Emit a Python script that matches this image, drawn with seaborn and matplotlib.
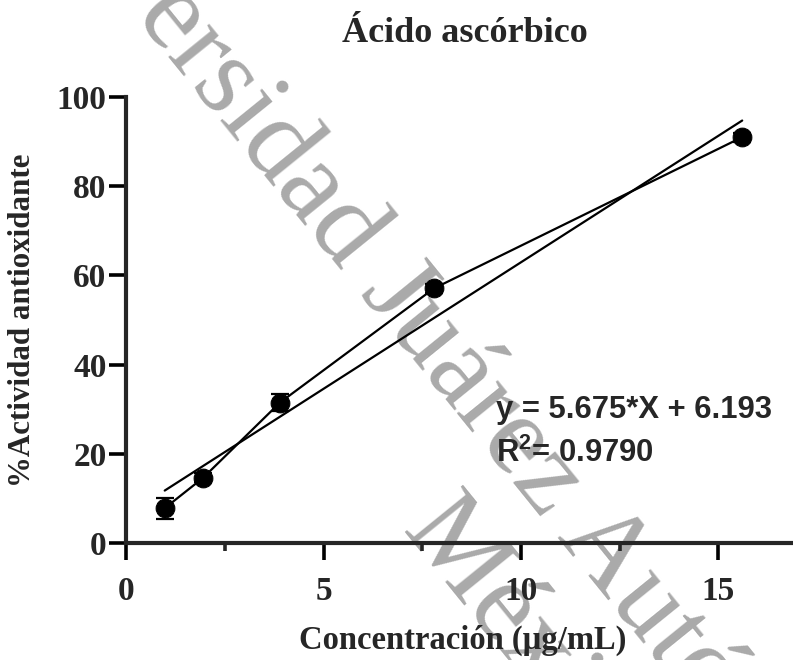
import matplotlib
matplotlib.use("Agg")
import matplotlib.pyplot as plt
import numpy as np
import pandas as pd
import seaborn as sns

# ---- data ----
concentration = [0.98, 1.95, 3.9, 7.8, 15.6]        # µg/mL
activity = [7.8, 14.6, 31.5, 57.1, 91.0]             # % antioxidant activity
error = [2.4, 1.0, 2.0, 1.0, 1.0]                    # SD
slope = 5.675
intercept = 6.193
r_squared = 0.9790
x_major_ticks = [0, 5, 10, 15]
x_minor_ticks = [2.5, 7.5, 12.5]
y_ticks = [0, 20, 40, 60, 80, 100]
title = "Ácido ascórbico"
x_label = "Concentración (µg/mL)"
y_label = "%Actividad antioxidante"
watermark_1 = "Universidad Juárez Autónoma de Tabasco"
watermark_2 = "México"

sns.set_style("ticks")
plt.rcParams["font.family"] = ["Liberation Serif", "DejaVu Serif"]
plt.rcParams["mathtext.fontset"] = "custom"
plt.rcParams["mathtext.bf"] = "Liberation Sans:bold"
plt.rcParams["mathtext.rm"] = "Liberation Sans:bold"

W, H = 793, 660
fig = plt.figure(figsize=(W / 100, H / 100), dpi=100)
ax = fig.add_axes([126 / W, 1 - 543 / H, (W - 126) / W, 446 / H])
ax.patch.set_alpha(0)

# watermark (behind everything)
wm_kw = dict(rotation=-51, rotation_mode="anchor", ha="left", va="baseline",
             fontsize=82, color="#aaaaaa", family="Liberation Serif", zorder=-1)
fig.text(-0.012, 1.245, watermark_1, **wm_kw)
fig.text(0.505, 0.195, watermark_2, **wm_kw)

df = pd.DataFrame({"conc": concentration, "act": activity})
fit = pd.DataFrame({"conc": [min(concentration), max(concentration)]})
fit["act"] = slope * fit["conc"] + intercept

ax.errorbar(concentration, activity, yerr=error, fmt="none", ecolor="black",
            elinewidth=1.6, capsize=6.5, capthick=1.6, zorder=2)
sns.lineplot(data=df, x="conc", y="act", ax=ax, color="black", linewidth=1.6,
             marker="o", markersize=13.5, markeredgecolor="black", zorder=3)
sns.lineplot(data=fit, x="conc", y="act", ax=ax, color="black", linewidth=1.6, zorder=3)

ax.set_xlim(0, (W - 126) / 39.5)
ax.set_ylim(0, 100)
ax.set_xticks(x_major_ticks)
ax.set_xticks(x_minor_ticks, minor=True)
ax.set_yticks(y_ticks)

sns.despine(ax=ax)
for s in ["left", "bottom"]:
    ax.spines[s].set_linewidth(3)
ax.tick_params(axis="both", which="major", length=12, width=2.6, direction="out",
               labelsize=24, color="black")
ax.tick_params(axis="x", which="minor", length=6, width=2.6, direction="out")
ax.tick_params(axis="x", which="major", pad=12)
ax.tick_params(axis="y", which="major", pad=2)
for lbl in ax.get_xticklabels() + ax.get_yticklabels():
    lbl.set_fontweight("bold")

ax.set_xlabel(x_label, fontsize=23.5, fontweight="bold", va="center", ha="center")
ax.xaxis.set_label_coords((463 - 126) / (W - 126), (543 - 640) / 446)
ax.set_ylabel(y_label, fontsize=22.3, fontweight="bold", va="center", ha="center")
ax.yaxis.set_label_coords((22 - 126) / (W - 126), 0.5)

ax.set_title(title, fontsize=26, fontweight="bold", y=(543 - 42) / 446, pad=0)
ax.title.set_x((465 - 126) / (W - 126))

ax.text(9.37, 28.0, f"y = {slope:.3f}*X + {intercept:.3f}", family="Liberation Sans",
        fontweight="bold", fontsize=22.3, va="baseline", ha="left")
ax.text(9.37, 18.1, r"R$^{\mathbf{2}}$" + f"= {r_squared:.4f}", family="Liberation Sans",
        fontweight="bold", fontsize=22.3, va="baseline", ha="left")

fig.savefig("out.png", dpi=100)
